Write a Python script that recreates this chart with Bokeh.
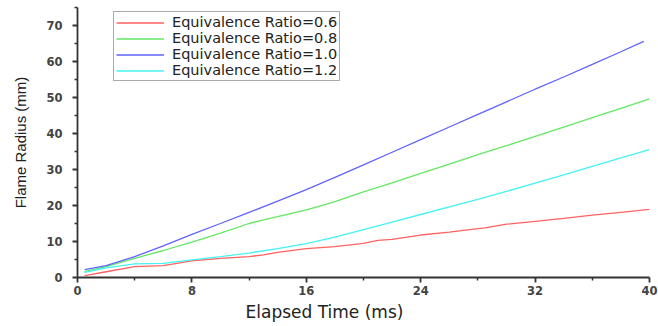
from bokeh.plotting import figure
from bokeh.models import Range1d, FixedTicker, Legend, LegendItem, Title
from bokeh.embed import file_html
from bokeh.resources import INLINE

# Elapsed time (ms) and flame radius (mm) for each equivalence ratio
t_06 = [0.5, 2, 4, 6, 8, 10, 12, 13, 14, 16, 18, 20, 21, 22, 24, 26, 28, 28.5, 30, 32, 34, 36, 38, 40]
r_06 = [0.5, 1.6, 3.0, 3.3, 4.6, 5.3, 5.8, 6.3, 7.0, 8.0, 8.6, 9.5, 10.3, 10.6, 11.8, 12.6, 13.6, 13.8, 14.8, 15.6, 16.4, 17.3, 18.1, 18.9]

t_08 = [0.5, 2, 4, 6, 8, 10, 12, 13, 14, 16, 17, 18, 20, 22, 24, 26, 28, 30, 32, 34, 36, 38, 40]
r_08 = [1.6, 3.0, 5.3, 7.5, 9.8, 12.3, 15.0, 16.0, 16.9, 18.8, 19.9, 21.1, 23.8, 26.3, 28.9, 31.5, 34.1, 36.6, 39.2, 41.8, 44.4, 47.0, 49.6]

t_10 = [0.5, 2, 4, 6, 8, 10, 12, 14, 16, 18, 20, 22, 24, 26, 28, 30, 32, 34, 36, 38, 39.6]
r_10 = [2.2, 3.3, 5.8, 8.8, 12.0, 15.0, 18.1, 21.2, 24.4, 27.8, 31.3, 34.8, 38.3, 41.8, 45.3, 48.8, 52.3, 55.7, 59.2, 62.7, 65.6]

t_12 = [0.5, 2, 4, 6, 8, 10, 12, 14, 16, 18, 20, 22, 24, 26, 28, 30, 32, 34, 36, 38, 40]
r_12 = [1.4, 2.7, 3.8, 3.9, 4.9, 5.8, 6.8, 8.0, 9.4, 11.2, 13.3, 15.4, 17.5, 19.6, 21.7, 23.9, 26.2, 28.5, 30.9, 33.2, 35.5]

series_labels = ["Equivalence Ratio=0.6", "Equivalence Ratio=0.8",
                 "Equivalence Ratio=1.0", "Equivalence Ratio=1.2"]
series_colors = ["#ff6262", "#62e862", "#6262ff", "#44f2f2"]

x_ticks = [0, 8, 16, 24, 32, 40]
x_minor = [4, 12, 20, 28, 36]
y_ticks = [0, 10, 20, 30, 40, 50, 60, 70]
y_minor = [5, 15, 25, 35, 45, 55, 65, 75]

p = figure(width=658, height=326, output_backend="svg", toolbar_location=None,
           x_range=Range1d(0, 40), y_range=Range1d(0, 75),
           min_border_left=77, min_border_right=9, min_border_top=7, min_border_bottom=49)
p.outline_line_color = None
p.xgrid.visible = False
p.ygrid.visible = False
p.background_fill_color = "white"

items = []
for xs, ys, lab, col in zip([t_06, t_08, t_10, t_12], [r_06, r_08, r_10, r_12],
                            series_labels, series_colors):
    r = p.line(xs, ys, line_color=col, line_width=1.3)
    items.append(LegendItem(label=lab, renderers=[r]))

legend = Legend(items=items, location=(36, 196))
legend.border_line_color = "#555555"
legend.border_line_width = 1.5
legend.padding = 2
legend.spacing = 0
legend.margin = 0
legend.label_height = 15
legend.glyph_height = 15
legend.glyph_width = 48
legend.label_standoff = 8
legend.label_text_font = "DejaVu Sans"
legend.label_text_font_size = "14.5px"
legend.label_text_color = "#222222"
legend.background_fill_alpha = 1.0
p.add_layout(legend, "center")

for ax in (p.xaxis[0], p.yaxis[0]):
    ax.axis_line_color = "#333333"
    ax.axis_line_width = 1.8
    ax.major_tick_line_color = "#333333"
    ax.major_tick_line_width = 1.8
    ax.minor_tick_line_color = "#333333"
    ax.minor_tick_line_width = 1.5
    ax.major_tick_in = 0
    ax.major_tick_out = 5
    ax.minor_tick_in = 0
    ax.minor_tick_out = 3
    ax.major_label_text_font = "DejaVu Sans"
    ax.major_label_text_font_style = "bold"
    ax.major_label_text_font_size = "11.5px"
    ax.major_label_text_color = "#444444"
    ax.axis_label_text_font_style = "normal"
    ax.axis_label_text_color = "#222222"

p.xaxis[0].ticker = FixedTicker(ticks=x_ticks, minor_ticks=x_minor)
p.yaxis[0].ticker = FixedTicker(ticks=y_ticks, minor_ticks=y_minor)
p.xaxis[0].major_label_standoff = 3

# x-axis title, placed left of centre like the reference
xtitle = Title(text="Elapsed Time (ms)", align="left", offset=168, standoff=4,
               text_font="DejaVu Sans", text_font_size="17px",
               text_font_style="normal", text_color="#222222")
p.add_layout(xtitle, "below")

p.yaxis[0].axis_label = "Flame Radius (mm)"
p.yaxis[0].axis_label_text_font = "Liberation Sans"
p.yaxis[0].axis_label_text_font_size = "15px"
p.yaxis[0].major_label_standoff = 10
p.yaxis[0].axis_label_standoff = 14

open("out.html", "w").write(file_html(p, INLINE))
